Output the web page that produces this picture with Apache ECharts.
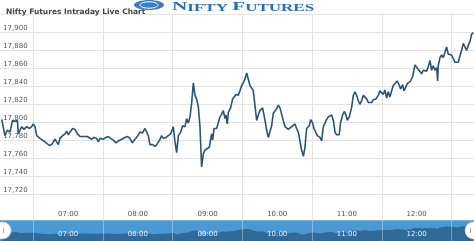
<!DOCTYPE html>
<html><head><meta charset="utf-8">
<script src="https://cdn.jsdelivr.net/npm/echarts@6/dist/echarts.min.js"></script>
<style>html,body{margin:0;padding:0;background:#fff}#c{width:474px;height:241px}</style>
</head><body><div id="c"></div>
<script>
// time = minutes since midnight, price = Nifty futures
const seg1 = [[392.8,17803],[395.6,17785],[397.6,17791],[399.9,17789],[402.2,17802],[404.2,17801],[406.3,17802],[407.1,17787],[408.5,17791],[410.0,17795],[412.0,17792],[414.3,17795],[416.6,17793],[418.6,17795],[420.0,17798],[421.5,17795],[422.9,17785],[425.8,17782],[430.1,17778],[433.8,17774],[435.8,17775],[438.7,17781],[440.1,17778],[441.5,17775],[443.0,17782],[445.3,17785],[447.3,17787],[448.7,17790],[450.1,17786],[451.6,17789],[453.9,17793],[455.9,17792],[457.9,17787],[460.2,17784],[461.6,17783],[463.1,17784],[464.5,17782],[466.5,17784],[468.2,17782],[470.2,17781],[472.2,17783],[474.5,17782],[476.0,17778],[477.4,17782],[480.3,17781],[482.6,17783],[484.6,17784],[486.6,17782],[488.9,17780],[491.2,17777],[493.2,17779],[496.1,17781],[498.9,17783],[501.2,17784],[503.2,17782],[505.2,17777],[507.5,17781],[509.5,17784],[511.8,17789],[514.1,17788],[516.1,17793],[517.6,17789],[519.0,17785],[520.4,17775],[522.7,17775],[524.8,17773],[526.8,17776],[529.1,17781]];
const seg2 = [[530.5,17785],[531.9,17782],[534.2,17783],[536.2,17785],[538.3,17787],[540.5,17795],[542.0,17778],[543.4,17766],[544.9,17785],[546.9,17789],[548.6,17796],[550.6,17795],[552.0,17804],[553.5,17799],[554.9,17806],[556.3,17821],[557.8,17844],[559.2,17830],[560.6,17826],[562.1,17817],[563.5,17795],[564.9,17750],[566.4,17765],[567.8,17769],[569.2,17769],[571.5,17772],[573.5,17787],[574.4,17780],[575.6,17793],[577.8,17793],[579.3,17795],[580.7,17806],[582.2,17809],[583.6,17813],[585.0,17804],[585.9,17808],[587.0,17798],[587.9,17811],[589.9,17816],[591.6,17826],[592.8,17824],[594.5,17831],[596.5,17830],[597.9,17835],[599.4,17841],[600.8,17844],[602.2,17848],[603.7,17855],[605.1,17848],[606.5,17841],[608.0,17838],[609.4,17835],[610.8,17819],[612.3,17802],[613.7,17808],[615.1,17813],[617.4,17816],[619.5,17802],[620.9,17791],[622.3,17783],[623.8,17784],[625.2,17796],[626.6,17810],[628.1,17811],[629.5,17815],[630.9,17819],[632.4,17816],[633.8,17814],[635.2,17802],[636.7,17795],[638.1,17795],[639.5,17792],[641.0,17794],[643.3,17796],[645.3,17798],[646.7,17793],[648.1,17789],[649.6,17787],[651.0,17769],[652.5,17762],[653.9,17772],[655.3,17793],[657.6,17796],[658.8,17803],[660.5,17799],[661.6,17793],[663.3,17792],[664.5,17785],[666.8,17783]];
const seg3 = [[668.2,17779],[669.7,17795],[671.1,17799],[672.5,17803],[674.0,17806],[675.4,17805],[676.8,17808],[678.3,17802],[679.7,17789],[681.1,17786],[683.4,17786],[684.6,17800],[686.3,17808],[687.7,17812],[689.2,17808],[690.3,17802],[692.0,17806],[694.0,17816],[695.5,17830],[696.9,17834],[698.3,17830],[699.8,17824],[701.2,17820],[702.7,17824],[704.1,17830],[705.5,17832],[707.0,17826],[708.4,17822],[709.8,17821],[711.3,17822],[712.7,17825],[715.0,17826],[717.0,17830],[718.4,17835],[719.9,17835],[721.3,17831],[722.7,17836],[724.2,17827],[725.6,17834],[727.0,17828],[728.5,17835],[729.9,17841],[731.3,17840],[733.3,17846],[735.1,17841],[736.2,17837],[737.9,17842],[739.1,17835],[740.8,17834],[742.0,17843],[743.7,17845],[744.8,17846],[746.6,17851],[748.6,17864],[750.0,17863],[751.4,17859],[752.9,17858],[754.3,17854],[755.7,17858],[757.2,17858],[758.6,17857],[760.0,17862],[761.5,17869],[762.9,17858],[764.3,17863],[765.8,17858],[767.2,17861],[768.1,17846],[768.6,17863],[770.1,17872],[771.5,17875],[772.9,17872],[774.4,17878],[775.8,17884],[777.2,17876],[778.7,17878],[780.1,17875],[781.6,17877],[783.0,17867],[784.4,17869],[785.9,17867],[787.3,17874],[788.7,17880],[790.2,17888],[791.6,17886],[793.0,17880],[794.5,17886],[795.9,17890],[797.3,17898],[798.8,17900]];
const hourLabels = ['07:00','08:00','09:00','10:00','11:00','12:00'];
const yMin = 17700, yMax = 17920, yStep = 20;
const xMin = 360, xMax = 800; // 06:00 .. 13:20

const data = seg1.concat(seg2, seg3);

const GL = -36.4, GW = 511.1;
function hourLabel(v){
  if (Math.round(v) % 60 !== 30) return '';
  const h = Math.round((v - 30) / 60);
  const s = (h < 10 ? '0' : '') + h + ':00';
  return hourLabels.indexOf(s) >= 0 ? s : '';
}
const gridX = (gi) => ({gridIndex: gi, type:'value', min:xMin, max:xMax, interval:60, position:'bottom',
  axisLine:{show:false}, axisTick:{show:false}, axisLabel:{show:false},
  splitLine:{show:true, lineStyle:{color:'#e3e3e3', width:1}}});

const chart = echarts.init(document.getElementById('c'), null, {renderer:'canvas'});
chart.setOption({
  animation:false,
  backgroundColor:'#fff',
  title:{text:'Nifty Futures Intraday Live Chart', left:1, top:3,
    textStyle:{fontFamily:'DejaVu Sans', fontSize:7.5, fontWeight:'bold', color:'#444'}},
  grid:[
    {left:GL, width:GW, top:14.7, height:197.1, outerBoundsMode:'none', containLabel:false},
    {left:GL, width:GW, top:211.8, height:8.4, outerBoundsMode:'none', containLabel:false},
    {left:GL, width:GW, top:220.2, height:20.8, show:true, backgroundColor:'#4c98d1', borderWidth:0, outerBoundsMode:'none', containLabel:false}
  ],
  xAxis:[
    gridX(0),
    {gridIndex:0, type:'value', min:xMin, max:xMax, interval:30, position:'bottom',
      axisLine:{show:false}, axisTick:{show:false}, splitLine:{show:false},
      axisLabel:{show:true, margin:2, verticalAlign:'middle', fontFamily:'DejaVu Sans', fontSize:7, color:'#555',
        showMinLabel:true, showMaxLabel:false, formatter:hourLabel}},
    gridX(1),
    Object.assign(gridX(2), {z:5, splitLine:{show:true, lineStyle:{color:'rgba(255,255,255,0.35)', width:1}}}),
    {gridIndex:2, type:'value', min:xMin, max:xMax, interval:30, position:'bottom', z:6,
      axisLine:{show:false}, axisTick:{show:false}, splitLine:{show:false},
      axisLabel:{show:true, inside:true, margin:6.5, verticalAlign:'middle', fontFamily:'DejaVu Sans', fontSize:7, color:'#e4f0fa',
        showMaxLabel:false, formatter:hourLabel}}
  ],
  yAxis:[
    {gridIndex:0, type:'value', min:yMin, max:yMax, interval:yStep,
      axisLine:{show:false}, axisTick:{show:false},
      splitLine:{show:true, showMinLine:false, lineStyle:{color:'#e3e3e3', width:1}},
      axisLabel:{inside:true, margin:39.5, align:'left', verticalAlign:'bottom', lineHeight:8,
        fontFamily:'DejaVu Sans', fontSize:7, color:'#555', showMinLabel:false, showMaxLabel:false,
        formatter:(v)=>v.toLocaleString('en-US')}},
    {gridIndex:1, type:'value', min:0, max:1, show:false},
    {gridIndex:2, type:'value', min:17680, max:17970, show:false}
  ],
  series:[
    {type:'line', xAxisIndex:0, yAxisIndex:0, data:data, showSymbol:false, z:3,
      lineStyle:{color:'#2a5374', width:1.6}},
    {type:'line', xAxisIndex:3, yAxisIndex:2, data:data, showSymbol:false, z:2,
      lineStyle:{width:0}, areaStyle:{color:'#2f6b96', opacity:1, origin:'start'}}
  ],
  graphic:[
    {type:'ellipse', shape:{cx:149, cy:5, rx:15, ry:5}, style:{fill:'#3a7fc4'}, z:10},
    {type:'ellipse', shape:{cx:149, cy:5, rx:9, ry:3.2}, style:{fill:'none', stroke:'#fff', lineWidth:1}, z:11},
    {type:'text', x:172, y:0, scaleX:1.7, z:10, style:{
      text:'{a|N}{b|IFTY }{a|F}{b|UTURES}',
      rich:{a:{fontFamily:'Liberation Serif', fontSize:12.5, fontWeight:'bold', fill:'#2a6db5', verticalAlign:'bottom'},
            b:{fontFamily:'Liberation Serif', fontSize:10, fontWeight:'bold', fill:'#2a6db5', verticalAlign:'bottom'}}}},
    {type:'circle', shape:{cx:2.5, cy:230.5, r:8.5}, style:{fill:'#fff', stroke:'#d8d8d8', lineWidth:0.5}, z:20},
    {type:'line', shape:{x1:3.5, y1:228, x2:3.5, y2:233}, style:{stroke:'#aaa', lineWidth:1}, z:21},
    {type:'circle', shape:{cx:473.5, cy:230.5, r:8.5}, style:{fill:'#fff', stroke:'#d8d8d8', lineWidth:0.5}, z:20},
    {type:'line', shape:{x1:470.5, y1:228, x2:470.5, y2:233}, style:{stroke:'#aaa', lineWidth:1}, z:21}
  ]
});
</script></body></html>
